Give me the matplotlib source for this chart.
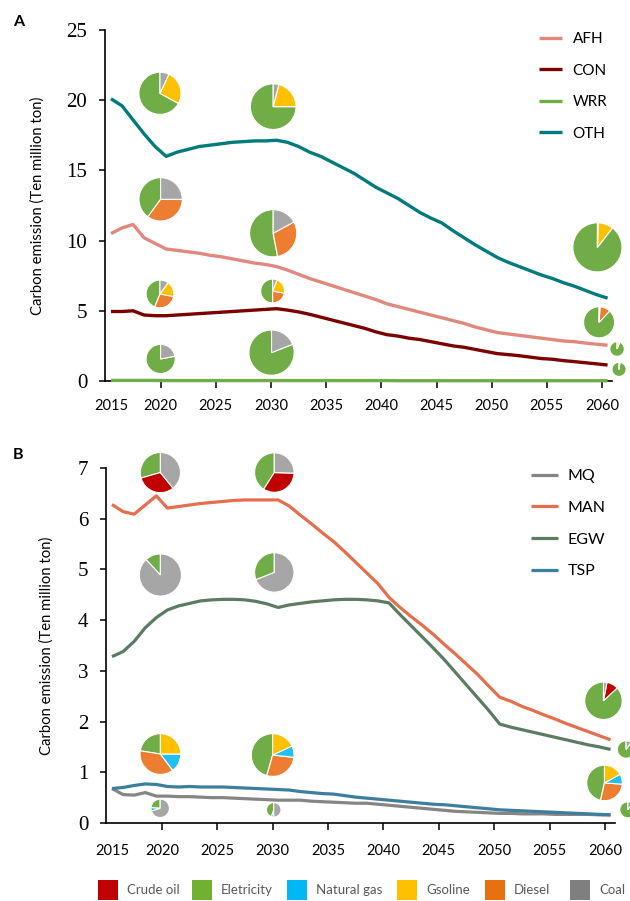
import matplotlib
matplotlib.use("Agg")
import matplotlib.pyplot as plt
from matplotlib.patches import Rectangle

YEARS = list(range(2015, 2061))

# panel A sectors
AFH = [10.5, 10.9, 11.15, 10.2, 9.8, 9.4, 9.3, 9.2, 9.1, 8.95,
       8.85, 8.7, 8.55, 8.4, 8.3, 8.15, 7.9, 7.6, 7.3, 7.05,
       6.8, 6.55, 6.3, 6.05, 5.8, 5.5, 5.3, 5.1, 4.9, 4.7,
       4.5, 4.3, 4.1, 3.85, 3.65, 3.45, 3.35, 3.25, 3.15, 3.05,
       2.95, 2.85, 2.8, 2.7, 2.62, 2.55]
CON = [4.95, 4.95, 5.0, 4.7, 4.65, 4.65, 4.7, 4.75, 4.8, 4.85,
       4.9, 4.95, 5.0, 5.05, 5.1, 5.15, 5.05, 4.92, 4.75, 4.55,
       4.35, 4.15, 3.95, 3.75, 3.5, 3.3, 3.2, 3.05, 2.95, 2.8,
       2.65, 2.5, 2.4, 2.25, 2.1, 1.95, 1.88, 1.8, 1.7, 1.6,
       1.55, 1.45, 1.38, 1.3, 1.22, 1.14]
WRR = [0.04, 0.04, 0.04, 0.04, 0.04, 0.03, 0.03, 0.03, 0.03, 0.03,
       0.03, 0.03, 0.03, 0.03, 0.03, 0.03, 0.03, 0.03, 0.03, 0.03,
       0.03, 0.03, 0.03, 0.03, 0.03, 0.03, 0.02, 0.02, 0.02, 0.02,
       0.02, 0.02, 0.02, 0.02, 0.02, 0.02, 0.02, 0.02, 0.02, 0.02,
       0.02, 0.02, 0.02, 0.02, 0.02, 0.02]
OTH = [20.1, 19.6, 18.6, 17.6, 16.7, 16.0, 16.3, 16.5, 16.7, 16.8,
       16.9, 17.0, 17.05, 17.1, 17.1, 17.15, 17.0, 16.7, 16.3, 16.0,
       15.6, 15.2, 14.8, 14.3, 13.8, 13.4, 13.0, 12.5, 12.0, 11.6,
       11.25, 10.7, 10.2, 9.7, 9.25, 8.8, 8.45, 8.15, 7.85, 7.55,
       7.3, 7.0, 6.75, 6.45, 6.15, 5.9]

# panel B sectors
MQ = [0.68, 0.56, 0.55, 0.6, 0.53, 0.53, 0.52, 0.52, 0.51, 0.5,
      0.5, 0.49, 0.48, 0.47, 0.46, 0.45, 0.45, 0.45, 0.43, 0.42,
      0.41, 0.4, 0.39, 0.39, 0.37, 0.35, 0.33, 0.31, 0.29, 0.27,
      0.25, 0.23, 0.22, 0.21, 0.2, 0.19, 0.19, 0.18, 0.18, 0.18,
      0.17, 0.17, 0.17, 0.17, 0.16, 0.16]
MAN = [6.28, 6.14, 6.09, 6.27, 6.45, 6.21, 6.24, 6.27, 6.3, 6.32,
       6.34, 6.36, 6.37, 6.37, 6.37, 6.37, 6.25, 6.07, 5.9, 5.72,
       5.55, 5.35, 5.14, 4.93, 4.72, 4.45, 4.25, 4.07, 3.9, 3.72,
       3.52, 3.33, 3.13, 2.93, 2.7, 2.48, 2.4, 2.3, 2.22, 2.13,
       2.05, 1.96, 1.88, 1.8, 1.72, 1.64]
EGW = [3.28, 3.38, 3.58, 3.85, 4.05, 4.2, 4.28, 4.33, 4.38, 4.4,
       4.41, 4.41, 4.4, 4.37, 4.32, 4.25, 4.3, 4.33, 4.36, 4.38,
       4.4, 4.41, 4.41, 4.4, 4.38, 4.34, 4.11, 3.89, 3.67, 3.45,
       3.22, 2.97, 2.72, 2.47, 2.22, 1.95, 1.89, 1.84, 1.79, 1.74,
       1.69, 1.64, 1.59, 1.54, 1.5, 1.45]
TSP = [0.68, 0.7, 0.74, 0.77, 0.76, 0.72, 0.71, 0.72, 0.71, 0.71,
       0.71, 0.7, 0.69, 0.68, 0.67, 0.66, 0.65, 0.62, 0.6, 0.58,
       0.57, 0.54, 0.51, 0.49, 0.47, 0.45, 0.43, 0.41, 0.39, 0.37,
       0.36, 0.34, 0.32, 0.3, 0.28, 0.26, 0.25, 0.24, 0.23, 0.22,
       0.21, 0.2, 0.19, 0.18, 0.17, 0.16]

SECTORS_A = ["AFH", "CON", "WRR", "OTH"]
SECTORS_B = ["MQ", "MAN", "EGW", "TSP"]

FUELS = ["Crude oil", "Eletricity", "Natural gas", "Gsoline", "Diesel", "Coal"]
# pie wedge order (counterclockwise from 12 o'clock)
PIE_ORDER = ["Eletricity", "Crude oil", "Diesel", "Natural gas", "Gsoline", "Coal"]

# fuel shares (%) per pie, in PIE_ORDER
SHARES_A = [
    [67, 0, 0, 0, 26, 7],      # OTH 2020
    [75, 0, 0, 0, 21, 4],      # OTH 2030
    [40, 0, 35, 0, 0, 25],     # AFH 2020
    [53, 0, 30, 0, 0, 17],     # AFH 2030
    [44, 0, 28, 0, 18, 10],    # CON 2020
    [50, 0, 22, 0, 22, 6],     # CON 2030
    [78, 0, 0, 0, 0, 22],      # WRR 2020
    [81, 0, 0, 0, 0, 19],      # WRR 2030
    [89.5, 0, 0, 0, 10, 0.5],  # OTH 2060
    [88, 0, 11, 0, 0, 1],      # AFH 2060
    [94, 0, 1, 0, 5, 0],       # CON 2060
    [98, 0, 0, 0, 0, 2],       # WRR 2060
]
SHARES_B = [
    [29.4, 31.4, 0, 0, 0, 39.2],   # MAN 2020
    [41, 33.5, 0, 0, 0, 25.5],     # MAN 2030
    [12, 0, 0, 0, 0, 88],          # EGW 2020
    [31, 0, 0, 0, 0, 69],          # EGW 2030
    [22.5, 0, 37.8, 14.7, 25, 0],  # TSP 2020
    [45.6, 0, 27.7, 8.7, 18, 0],   # TSP 2030
    [24, 0, 0, 6, 0, 70],          # MQ 2020
    [45, 0, 0, 5, 0, 50],          # MQ 2030
    [87, 10, 0, 0, 0, 3],          # MAN 2060
    [90, 0, 0, 0, 0, 10],          # EGW 2060
    [46.5, 0, 27.4, 9.2, 16.9, 0], # TSP 2060
    [90, 0, 0, 0, 0, 10],          # MQ 2060
]

# where each pie sits: (year, value, radius in px)
SPOTS_A = [(2019.44, 20.49, 21.7), (2029.7, 19.54, 23.5),
           (2019.5, 12.94, 22.3), (2029.7, 10.52, 24.3),
           (2019.44, 6.2, 14.3), (2029.65, 6.41, 12.3),
           (2019.5, 1.57, 15.0), (2029.55, 2.02, 23.3),
           (2059.08, 9.52, 25.3), (2059.23, 4.18, 16.0),
           (2060.86, 2.28, 7.5), (2061.04, 0.83, 7.3)]
SPOTS_B = [(2019.37, 6.91, 20.7), (2029.65, 6.91, 20.3),
           (2019.37, 4.89, 21.7), (2029.65, 4.94, 20.3),
           (2019.37, 1.36, 21.0), (2029.5, 1.34, 22.0),
           (2019.35, 0.29, 9.5), (2029.6, 0.26, 7.5),
           (2059.36, 2.41, 19.3), (2061.4, 1.45, 9.0),
           (2059.45, 0.79, 18.3), (2061.56, 0.26, 8.3)]

LINE_COLORS = {"AFH": "#e0887e", "CON": "#7a0000", "WRR": "#70ad47", "OTH": "#007b7b",
               "MQ": "#858585", "MAN": "#e36f4c", "EGW": "#5c7c62", "TSP": "#3c7e9e"}
PIE_COLORS = {"Crude oil": "#c00000", "Eletricity": "#70ad47", "Natural gas": "#22bff2",
              "Gsoline": "#ffc000", "Diesel": "#ed7d31", "Coal": "#a6a6a6"}
KEY_COLORS = {"Crude oil": "#c00000", "Eletricity": "#72b032", "Natural gas": "#00b8f5",
              "Gsoline": "#ffc000", "Diesel": "#e8700f", "Coal": "#7f7f7f"}

SANS = "Lato"
SERIF = "Liberation Serif"

W, H = 630, 901
fig = plt.figure(figsize=(W / 100, H / 100), dpi=100)


def style_axis(ax, ymax):
    ax.spines[["top", "right"]].set_visible(False)
    for s in ("left", "bottom"):
        ax.spines[s].set_linewidth(1.2)
    ax.set_xlim(2014.46, 2060.4)
    ax.set_ylim(0, ymax)
    ticks = [2015] + [y - 0.5 for y in range(2020, 2061, 5)]
    ax.set_xticks(ticks, [str(y) for y in range(2015, 2061, 5)])
    ax.xaxis.get_major_ticks()[0].tick1line.set_visible(False)
    ax.tick_params(axis="x", length=5, width=1.1, pad=8, labelsize=10.5,
                   labelfontfamily=SANS)
    ax.tick_params(axis="y", length=4.3, width=1.1, pad=8.5, labelsize=15,
                   labelfontfamily=SERIF)
    ax.set_ylabel("Carbon emission (Ten million ton)", fontsize=10.7, family=SANS)


def draw_pie(ax, year, value, r, shares):
    px, py = ax.transData.transform((year, value))
    pax = fig.add_axes([(px - r) / W, (py - r) / H, 2 * r / W, 2 * r / H])
    vals = [s for s in shares if s > 0]
    cols = [PIE_COLORS[f] for f, s in zip(PIE_ORDER, shares) if s > 0]
    pax.pie(vals, colors=cols, startangle=90, counterclock=True, radius=1,
            wedgeprops=dict(edgecolor="white", linewidth=0.8))
    pax.set_xlim(-1.03, 1.03)
    pax.set_ylim(-1.03, 1.03)
    pax.axis("off")


# ---- panel A
axA = fig.add_axes([105 / W, 1 - 381 / H, 507 / W, 351 / H])
for name, vals in zip(SECTORS_A, [AFH, CON, WRR, OTH]):
    axA.plot(YEARS, vals, color=LINE_COLORS[name], lw=2.4, label=name,
             solid_capstyle="butt", clip_on=False, zorder=3)
style_axis(axA, 25)
axA.set_yticks([0, 5, 10, 15, 20, 25])
axA.yaxis.set_label_coords(-0.118, 0.5)
axA.legend(loc="upper left", bbox_to_anchor=(539 / W, 1 - 32 / H),
           bbox_transform=fig.transFigure, frameon=False,
           prop={"family": SANS, "size": 11}, handlelength=1.5,
           handletextpad=0.7, labelspacing=1.15, borderpad=0, borderaxespad=0)

# ---- panel B
axB = fig.add_axes([106 / W, 1 - 823 / H, 509 / W, 355 / H])
for name, vals in zip(SECTORS_B, [MQ, MAN, EGW, TSP]):
    axB.plot(YEARS, vals, color=LINE_COLORS[name], lw=2.3, label=name,
             solid_capstyle="butt", clip_on=False, zorder=3)
style_axis(axB, 7)
axB.set_yticks(range(0, 8))
axB.tick_params(axis="x", pad=10)
axB.yaxis.set_label_coords(-0.102, 0.5)
axB.legend(loc="upper left", bbox_to_anchor=(531 / W, 1 - 469 / H),
           bbox_transform=fig.transFigure, frameon=False,
           prop={"family": SANS, "size": 11.5}, handlelength=1.7,
           handletextpad=0.6, labelspacing=1.1, borderpad=0, borderaxespad=0)

for (yr, v, r), sh in zip(SPOTS_A, SHARES_A):
    draw_pie(axA, yr, v, r, sh)
for (yr, v, r), sh in zip(SPOTS_B, SHARES_B):
    draw_pie(axB, yr, v, r, sh)

fig.text(19 / W, 1 - 22 / H, "A", fontsize=11.5, fontweight="bold", family=SANS,
         ha="center", va="center")
fig.text(18 / W, 1 - 455 / H, "B", fontsize=11.5, fontweight="bold", family=SANS,
         ha="center", va="center")

# ---- fuel key at the bottom
key_x = [98, 192, 287, 397, 485, 570]
for fuel, x0 in zip(FUELS, key_x):
    fig.patches.append(Rectangle((x0 / W, 1 - 900 / H), 20 / W, 20 / H,
                                 transform=fig.transFigure,
                                 facecolor=KEY_COLORS[fuel], edgecolor="none"))
    fig.text((x0 + 29) / W, 1 - 890 / H, fuel, fontsize=9.5, family=SANS,
             color="#595959", ha="left", va="center")

fig.savefig("out.png", dpi=100)
